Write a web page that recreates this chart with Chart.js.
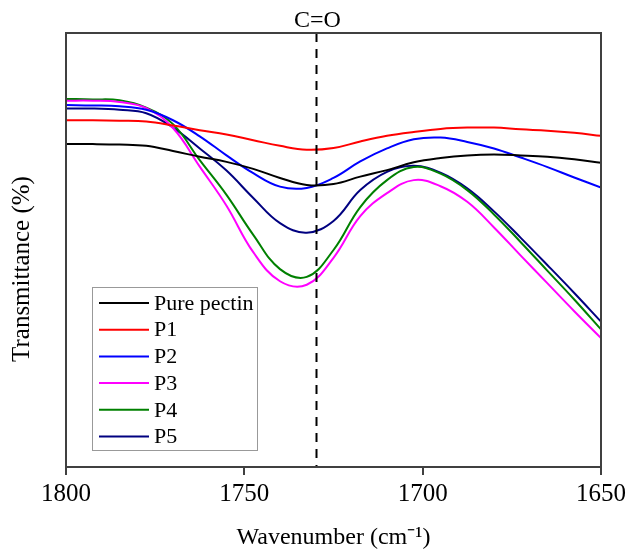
<!DOCTYPE html>
<html>
<head>
<meta charset="utf-8">
<script src="https://cdn.jsdelivr.net/npm/chart.js@4.4.1/dist/chart.umd.min.js"></script>
<style>
  html, body { margin: 0; padding: 0; background: #fff; }
  #wrap { width: 630px; height: 556px; position: relative; }
</style>
</head>
<body>
<div id="wrap"><canvas id="chart"></canvas></div>
<script>
// Wavenumbers (cm-1), shared by every spectrum
const wavenumbers = [1800, 1792.5, 1785, 1777.5, 1770, 1762.5, 1755, 1747.5, 1740, 1732.5, 1725,
  1717.5, 1710, 1702.5, 1695, 1687.5, 1680, 1672.5, 1665, 1657.5, 1650];

// Transmittance, arbitrary units
const purePectin = [74.4, 74.4, 74.3, 74.0, 72.8, 71.5, 70.3, 68.7, 66.6, 65.0, 65.2, 66.9, 68.4, 70.2, 71.2, 71.8, 72.0, 71.8, 71.5, 70.9, 70.1];
const p1 = [79.9, 79.9, 79.8, 79.6, 78.7, 77.6, 76.6, 75.3, 74.0, 73.1, 73.5, 75.0, 76.3, 77.2, 77.9, 78.2, 78.2, 77.8, 77.5, 77.0, 76.3];
const p2 = [83.4, 83.3, 83.1, 82.3, 79.9, 76.2, 71.8, 67.7, 64.6, 64.3, 66.6, 70.4, 73.4, 75.5, 75.9, 74.9, 73.4, 71.3, 69.1, 66.7, 64.4];
const p3 = [84.4, 84.4, 84.1, 82.7, 78.1, 69.2, 60.2, 49.5, 42.8, 42.0, 48.2, 57.8, 63.1, 66.1, 64.7, 61.1, 55.2, 48.7, 42.3, 35.9, 29.7];
const p4 = [84.8, 84.7, 84.5, 82.8, 79.0, 70.7, 62.7, 53.5, 45.6, 43.8, 50.0, 59.9, 66.1, 69.1, 67.6, 63.8, 58.2, 51.8, 45.2, 38.6, 31.7];
const p5 = [82.6, 82.6, 82.3, 81.5, 78.2, 73.4, 68.3, 62.0, 56.2, 54.0, 56.7, 63.8, 68.0, 69.4, 67.8, 64.2, 58.9, 52.8, 46.5, 40.1, 33.5];

const seriesNames = ['Pure pectin', 'P1', 'P2', 'P3', 'P4', 'P5'];
const seriesColors = ['#000000', '#ff0000', '#0000ff', '#ff00ff', '#008000', '#000080'];
const seriesValues = [purePectin, p1, p2, p3, p4, p5];

const xTicks = [1800, 1750, 1700, 1650];
const bandPosition = 1730;
const bandLabel = 'C=O';

const FONT = '"Liberation Serif", "Times New Roman", serif';

const datasets = seriesNames.map((name, i) => ({
  label: name,
  data: wavenumbers.map((w, j) => ({ x: w, y: seriesValues[i][j] })),
  borderColor: seriesColors[i],
  backgroundColor: seriesColors[i],
  borderWidth: 2,
  pointRadius: 0,
  tension: 0.4,
  fill: false,
}));

// frame, C=O marker, y title and boxed legend
const decorations = {
  id: 'decorations',
  afterDatasetsDraw(chart) {
    const { ctx, chartArea: a, scales } = chart;
    ctx.save();

    // dashed band marker
    const bx = Math.round(scales.x.getPixelForValue(bandPosition)) + 0.5;
    ctx.strokeStyle = '#000';
    ctx.lineWidth = 2;
    ctx.setLineDash([9, 7]);
    ctx.beginPath();
    ctx.moveTo(bx, a.top);
    ctx.lineTo(bx, a.bottom);
    ctx.stroke();
    ctx.setLineDash([]);

    ctx.fillStyle = '#000';
    ctx.font = `24px ${FONT}`;
    ctx.textAlign = 'center';
    ctx.textBaseline = 'alphabetic';
    ctx.fillText(bandLabel, bx + 1, a.top - 6);

    // frame
    ctx.strokeStyle = '#404040';
    ctx.lineWidth = 2;
    ctx.strokeRect(a.left, a.top, a.right - a.left, a.bottom - a.top);

    // y title
    ctx.save();
    ctx.translate(22, 269);
    ctx.rotate(-Math.PI / 2);
    ctx.font = `25px ${FONT}`;
    ctx.textAlign = 'center';
    ctx.textBaseline = 'middle';
    ctx.fillText('Transmittance (%)', 0, 0);
    ctx.restore();

    // legend box
    const lx = 92, ly = 287, lw = 165, lh = 163;
    ctx.fillStyle = '#fff';
    ctx.fillRect(lx, ly, lw, lh);
    ctx.strokeStyle = '#999';
    ctx.lineWidth = 1;
    ctx.strokeRect(lx + 0.5, ly + 0.5, lw, lh);
    ctx.font = `22px ${FONT}`;
    ctx.textAlign = 'left';
    ctx.textBaseline = 'middle';
    chart.data.datasets.forEach((ds, i) => {
      const y = ly + 16 + i * 26.7;
      ctx.strokeStyle = ds.borderColor;
      ctx.lineWidth = 2;
      ctx.beginPath();
      ctx.moveTo(99, y);
      ctx.lineTo(149, y);
      ctx.stroke();
      ctx.fillStyle = '#000';
      ctx.fillText(ds.label, 154, y + 1);
    });
    ctx.restore();
  }
};

new Chart(document.getElementById('chart'), {
  type: 'line',
  data: { datasets },
  options: {
    responsive: true, maintainAspectRatio: false, animation: false,
    layout: { padding: { top: 33, right: 29, left: 0, bottom: 0 } },
    plugins: { legend: { display: false }, tooltip: { enabled: false } },
    scales: {
      x: {
        type: 'linear', reverse: true, min: 1650, max: 1800,
        afterBuildTicks: s => { s.ticks = xTicks.map(v => ({ value: v })); },
        afterFit: s => { s.height = 89; },
        grid: { display: true, drawOnChartArea: false, drawTicks: true, tickLength: 8, color: '#404040', lineWidth: 2 },
        border: { display: false },
        ticks: { color: '#000', font: { family: FONT, size: 25 }, padding: 4, maxRotation: 0, callback: v => String(v) },
        title: { display: true, text: 'Wavenumber (cm⁻¹)', color: '#000', font: { family: FONT, size: 24 }, padding: { top: 10 } },
      },
      y: {
        min: 0, max: 100,
        afterFit: s => { s.width = 66; },
        grid: { display: false },
        border: { display: false },
        ticks: { display: false },
      }
    }
  },
  plugins: [decorations]
});
</script>
</body>
</html>
